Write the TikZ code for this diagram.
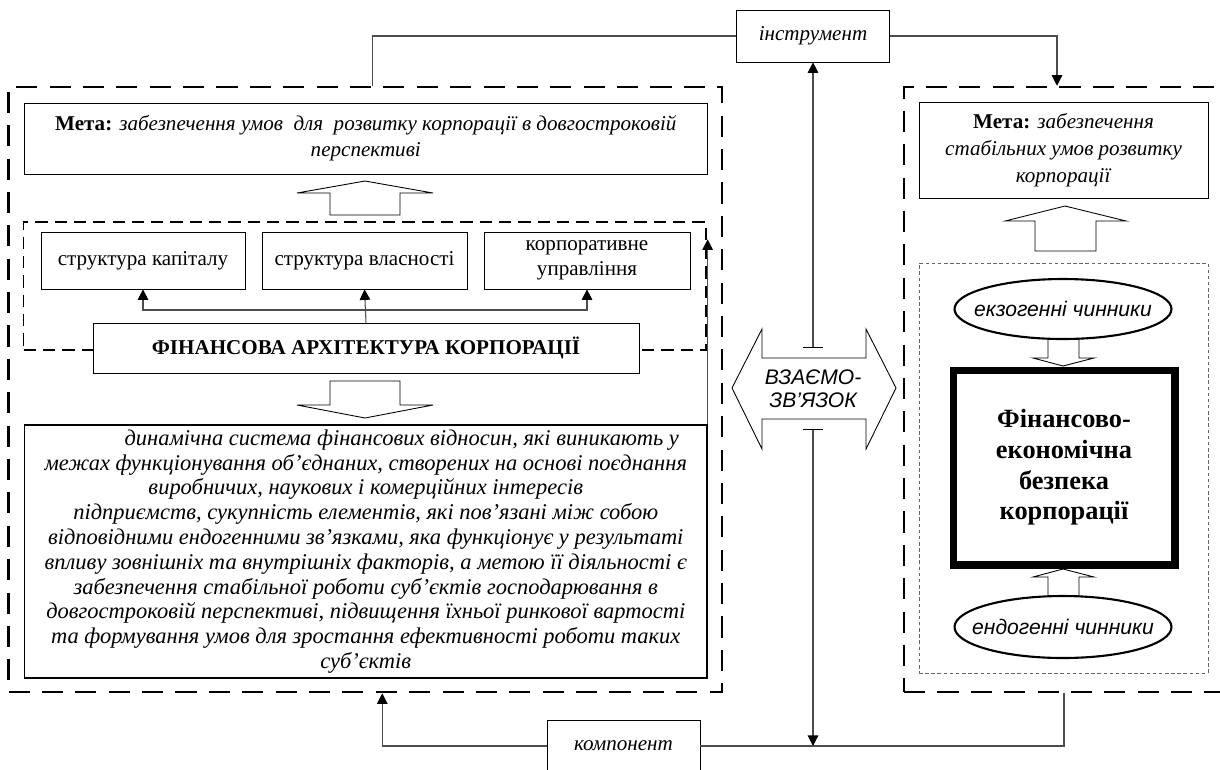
\documentclass[tikz,border=0pt]{standalone}
\usepackage{fontspec}
\setmainfont{Liberation Serif}
\newfontfamily\arialf{Liberation Sans}
\usetikzlibrary{arrows.meta, shapes.geometric}

\begin{document}
\begin{tikzpicture}[x=0.02cm, y=-0.02cm]
        \tikzset{
            box/.style={draw, fill=white, inner sep=0pt, align=center, font=\fontsize{12}{14.2}\selectfont},
            outerbox/.style={draw, line width=1.5pt, dash pattern=on 12pt off 7pt, inner sep=0pt},
            innerbox/.style={draw, line width=0.6pt, dash pattern=on 7pt off 4pt, inner sep=0pt},
            dotbox/.style={draw=black!60, line width=0.4pt, dash pattern=on 2pt off 1.5pt, inner sep=0pt},
            link/.style={draw=black!70, line width=0.6pt},
            conn/.style={link, -{Triangle[length=6pt,width=6pt,black]}},
            barconn/.style={link, {Bar[width=11pt,black]}-{Triangle[length=6pt,width=6pt,black]}},
            hollow/.style={draw, fill=white, line width=0.5pt},
            factor/.style={ellipse, draw, line width=1.2pt, fill=white, inner sep=0pt},
            factortext/.style={inner sep=0pt, font=\arialf\itshape\fontsize{12}{14}\selectfont}
        }
        \useasboundingbox (0,0) rectangle (1220,769);

        \node[outerbox, minimum width=14.27cm, minimum height=12.1cm] (lbox) at (365.25,389.5) {};
        \node[outerbox, minimum width=6.4cm, minimum height=12.1cm] (rbox) at (1064,389.5) {};

        \node[box, minimum width=3.06cm, minimum height=1.04cm] (instr) at (813,36) {\itshape інструмент};
        \node[box, minimum width=3.06cm, minimum height=1.04cm] (comp) at (623.5,746) {\itshape компонент};

        % left part
        \node[box, minimum width=13.65cm, minimum height=1.42cm, font=\fontsize{12}{14.8}\selectfont] (lgoal) at (365.75,138.5)
            {\textbf{Мета:} \textit{забезпечення умов\ \ для\ \ розвитку корпорації в довгостроковій}\\\textit{перспективі}};
        \draw[hollow] (365,181) -- (433,193) -- (400,193) -- (400,215) -- (330,215) -- (330,193) -- (297,193) -- cycle;

        \node[innerbox, minimum width=13.65cm, minimum height=2.56cm] (arch) at (364.8,286) {};
        \foreach \name/\x/\w/\txt in {kap/143/4.08/{структура капіталу}, vl/364.5/4.1/{структура власності}, up/587/4.12/{корпоративне\\управління}}
            \node[box, minimum width=\w cm, minimum height=1.14cm] (\name) at (\x,260.5) {\txt};
        \node[box, minimum width=10.92cm, minimum height=1cm] (fa) at (366,348) {\textbf{ФІНАНСОВА АРХІТЕКТУРА КОРПОРАЦІЇ}};

        \coordinate (bus) at (0,310);
        \draw[conn] (fa.north) -- (vl.south);
        \draw[conn] (fa.north |- bus) -| (kap.south);
        \draw[conn] (fa.north |- bus) -| (up.south);

        \draw[hollow] (330,381) -- (400,381) -- (400,405) -- (433,405) -- (365,418) -- (297,405) -- (330,405) -- cycle;

        \node[box, line width=0.8pt, minimum width=13.65cm, minimum height=5.06cm, font=\itshape\fontsize{12.8}{14.1}\selectfont] (txt) at (365.75,551.5)
            {\hspace*{1.44cm}динамічна система фінансових відносин, які виникають у\\
            межах функціонування об’єднаних, створених на основі поєднання\\
            виробничих, наукових і комерційних інтересів\\
            підприємств, сукупність елементів, які пов’язані між собою\\
            відповідними ендогенними зв’язками, яка функціонує у результаті\\
            впливу зовнішніх та внутрішніх факторів, а метою її діяльності є\\
            забезпечення стабільної роботи суб’єктів господарювання в\\
            довгостроковій перспективі, підвищення їхньої ринкової вартості\\
            та формування умов для зростання ефективності роботи таких\\
            суб’єктів};
        \draw[conn] (txt.north east) -- ++(0,-185);

        % right part
        \node[box, minimum width=5.78cm, minimum height=1.92cm, font=\fontsize{12}{15.3}\selectfont] (rgoal) at (1063.5,150)
            {\textbf{Мета:} \textit{забезпечення}\\\textit{стабільних умов розвитку}\\\textit{корпорації}};
        \draw[hollow] (1065,206) -- (1126,221) -- (1096,221) -- (1096,251) -- (1035,251) -- (1035,221) -- (1005,221) -- cycle;

        \node[dotbox, minimum width=5.78cm, minimum height=8.2cm] (fact) at (1063.5,468) {};
        \draw[hollow] (1048,339) -- (1079,339) -- (1079,358) -- (1094,358) -- (1063,366) -- (1033,358) -- (1048,358) -- cycle;
        \draw[hollow] (1063,569) -- (1094,577) -- (1079,577) -- (1079,596) -- (1048,596) -- (1048,577) -- (1033,577) -- cycle;
        \node[factor, minimum width=4.34cm, minimum height=1.2cm, label={[factortext]center:екзогенні чинники}] (exo) at (1063,309) {};
        \node[factor, minimum width=4.34cm, minimum height=1.24cm, label={[factortext]center:ендогенні чинники}] (endo) at (1063,627) {};
        \node[box, line width=4pt, minimum width=4.44cm, minimum height=3.9cm, font=\bfseries\fontsize{15}{17.4}\selectfont] (sec) at (1064,467.5)
            {Фінансово-\\економічна\\безпека\\корпорації};

        % interrelation
        \draw[hollow] (732,388) -- (762,329) -- (762,358) -- (866,358) -- (866,329) -- (896,388) -- (866,449) -- (866,419) -- (762,419) -- (762,449) -- cycle;
        \node[inner sep=0pt, minimum height=1.62cm, align=center, font=\arialf\itshape\fontsize{12}{13}\selectfont] (rel) at (813,388.5) {ВЗАЄМО-\\ЗВ’ЯЗОК};

        \draw[barconn] (rel.north) -- (instr.south);
        \draw[barconn] (rel.south) -- (rel.south |- comp.east);

        \draw[link] ([xshift=0.14cm]lbox.north) |- (instr.west);
        \draw[conn] (instr.east) -| ([xshift=-0.14cm]rbox.north);
        \draw[link] (rbox.south) |- (comp.east);
        \draw[conn] (comp.west) -| ([xshift=0.34cm]lbox.south);
    \end{tikzpicture}
\end{document}
